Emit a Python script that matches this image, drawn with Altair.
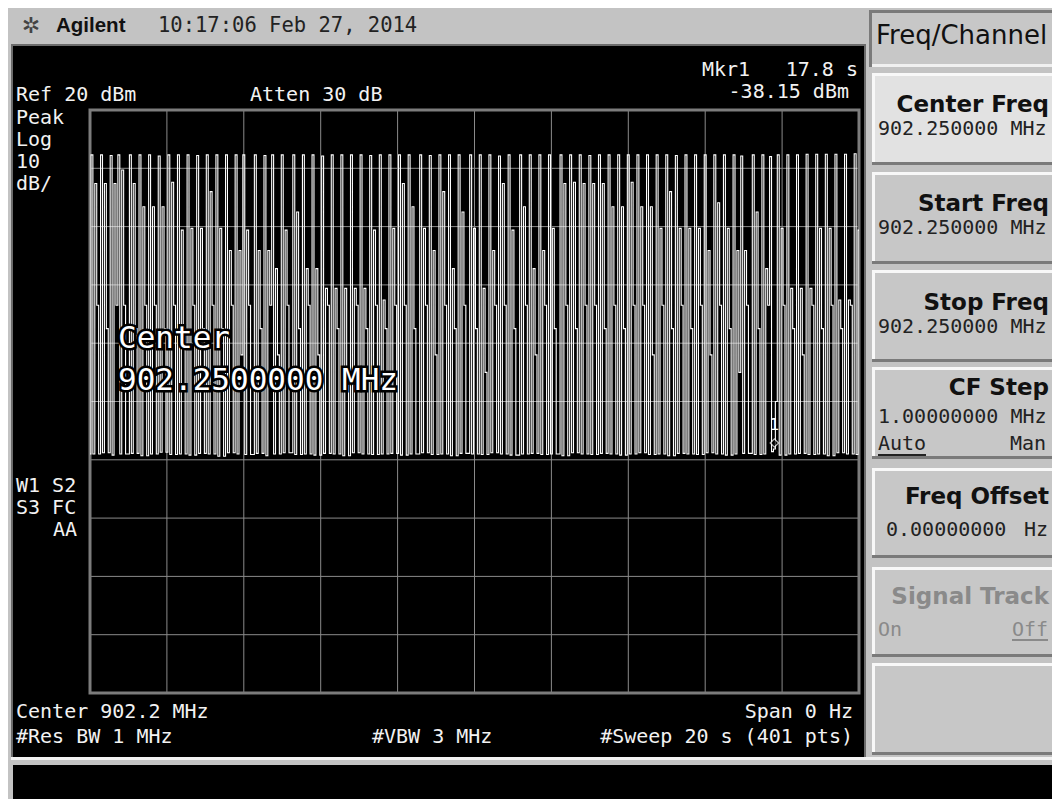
import altair as alt
import pandas as pd

SWEEP_S = 20.0          # "#Sweep 20 s"
N_POINTS = 401          # "(401 pts)"
time_ticks = [0, 2, 4, 6, 8, 10, 12, 14, 16, 18, 20]                 # 10 divisions
level_ticks = [20, 10, 0, -10, -20, -30, -40, -50, -60, -70, -80]     # Ref 20 dBm, 10 dB/div

# sweep-point index at which every hop burst starts
hop_index = [1, 6, 11, 15, 21, 26, 31, 36, 41, 46,
             51, 56, 61, 66, 71, 76, 80, 86, 91, 95,
             100, 106, 111, 116, 121, 126, 131, 136, 141, 146,
             151, 156, 161, 166, 172, 177, 182, 187, 192, 198,
             203, 208, 213, 218, 224, 229, 234, 239, 245, 250,
             255, 260, 265, 270, 275, 280, 285, 290, 295, 300,
             305, 310, 315, 320, 325, 330, 335, 339, 345, 350,
             354, 358, 363, 368, 373, 378, 383, 388, 393, 398]
# burst peak level (dBm)
hop_peak = [12.3, 12.3, 12.2, 12.3, 12.3, 12.3, 12.3, 12.1, 12.3, 12.3,
            12.3, 12.2, 12.3, 12.3, 12.3, 12.3, 12.3, 12.3, 12.2, 12.3,
            12.3, 12.3, 12.3, 12.3, 12.1, 12.3, 12.3, 12.3, 12.3, 12.2,
            12.3, 12.3, 12.3, 12.3, 12.3, 12.2, 12.3, 12.3, 12.3, 12.3,
            12.3, 12.3, 12.1, 12.3, 12.3, 12.3, 12.3, 12.3, 12.3, 12.3,
            12.3, 12.2, 12.3, 12.3, 12.3, 12.3, 12.3, 12.3, 12.3, 12.3,
            12.2, 12.3, 12.3, 12.3, 12.3, 12.3, 12.3, 12.1, 12.3, 12.3,
            12.0, 12.3, 12.3, 12.3, 12.4, 12.4, 12.4, 12.4, 12.4, 12.5]
# level of the echo line next to each burst (dBm)
hop_second = [7.4, 7.4, 7.4, 9.7, 7.4, 3.4, 3.4, 3.4, 7.6, -0.6,
              -0.3, -0.3, 6.0, -0.3, -4.1, -4.1, -0.6, -4.1, -4.1, -7.2,
              -0.6, 2.5, -7.2, -7.2, -10.6, -10.6, -10.6, -10.6, -10.6, -0.6,
              -12.6, -0.3, 7.4, 3.4, -0.3, -4.1, 6.0, -7.2, 2.5, -0.3,
              -10.6, -4.1, 7.4, -0.6, 3.4, -7.2, -4.1, -0.3, 7.4, 7.6,
              7.4, 7.4, 7.4, 3.4, 3.4, 7.6, 3.4, 3.4, -0.3, 6.0,
              -0.3, -0.3, -0.3, -4.1, 4.1, -0.3, -4.1, -4.1, 2.5, -7.2,
              -12.6, -0.3, -10.6, -10.6, -10.6, -0.3, -0.3, -12.6, -12.6, -0.6]
# level of the following (lower) point (dBm)
hop_third = [-13.5, -17.5, -13.5, -13.5, -17.5, -13.5, -13.5, -17.5, -13.5, -17.5,
             -13.5, -17.5, -13.5, -17.5, -13.5, -22.0, -13.5, -17.5, -13.5, -22.0,
             -13.5, -17.5, -13.5, -22.0, -13.5, -17.5, -25.0, -13.5, -17.5, -13.5,
             -17.5, -13.5, -13.5, -17.5, -13.5, -22.0, -13.5, -17.5, -13.5, -17.5,
             -25.0, -13.5, -13.5, -17.5, -13.5, -22.0, -13.5, -17.5, -13.5, -17.5,
             -13.5, -13.5, -17.5, -13.5, -17.5, -13.5, -13.5, -22.0, -13.5, -17.5,
             -13.5, -17.5, -13.5, -22.0, -13.5, -17.5, -25.0, -13.5, -17.5, -13.5,
             -30.0, -13.5, -17.5, -22.0, -13.5, -17.5, -13.5, -17.5, -13.5, -17.5]
# noise floor around each burst (dBm)
hop_floor = [-39.0, -38.8, -39.2, -39.0, -38.9, -39.3, -39.0, -38.7, -39.1, -39.0,
             -39.2, -38.9, -39.0, -39.4, -38.8, -39.0, -39.1, -38.9, -39.3, -39.0,
             -38.8, -39.1, -39.0, -39.2, -38.9, -39.0, -39.3, -38.8, -39.0, -39.1,
             -39.0, -38.9, -39.2, -39.0, -38.8, -39.1, -39.0, -39.3, -38.9, -39.0,
             -39.1, -38.8, -39.0, -39.2, -39.0, -38.9, -39.1, -39.0, -39.3, -38.8,
             -39.0, -39.1, -38.9, -39.0, -39.2, -39.0, -38.8, -39.1, -39.0, -39.3,
             -38.9, -39.0, -39.1, -38.8, -39.0, -39.2, -39.0, -38.9, -39.1, -39.0,
             -38.6, -39.2, -39.0, -38.9, -39.1, -39.0, -39.3, -38.8, -39.0, -39.1]
marker_time = 17.8       # "Mkr1 17.8 s"
marker_level = -38.15    # "-38.15 dBm"

# ---------------- trace table ----------------
levels = [hop_floor[0]]
for k, p in enumerate(hop_index):
    end = hop_index[k + 1] if k + 1 < len(hop_index) else N_POINTS
    burst = [hop_peak[k], hop_floor[k], hop_second[k], hop_third[k]]
    for j in range(p, end):
        off = j - p
        levels.append(burst[off] if off < len(burst) else hop_floor[k])
times = [i * SWEEP_S / (N_POINTS - 1) for i in range(N_POINTS)]
marker_i = round(marker_time / SWEEP_S * (N_POINTS - 1))
levels[marker_i] = marker_level
trace_df = pd.DataFrame({"t": times, "dbm": levels})

# ---------------- layout (page pixels; the chart sits at the 8px page margin) ----------------
OFF = 8
W, H = 1044, 791
X_RANGE = [90 - OFF, 859 - OFF]
Y_RANGE = [693 - OFF, 110 - OFF]

xs = alt.Scale(domain=[0, SWEEP_S], range=X_RANGE, nice=False, zero=False)
ys = alt.Scale(domain=[level_ticks[-1], level_ticks[0]], range=Y_RANGE, nice=False, zero=False)

one = pd.DataFrame({"k": [0]})
layers = []


def box(x0, y0, x1, y1, color):
    return alt.Chart(one).mark_rect(color=color).encode(
        x=alt.value(x0 - OFF), x2=alt.value(x1 - OFF),
        y=alt.value(y0 - OFF), y2=alt.value(y1 - OFF))


def label(txt, x, y, size, color, font="DejaVu Sans Mono", weight="normal", align="left", **kw):
    return alt.Chart(one).mark_text(
        text=txt, align=align, baseline="alphabetic", font=font, fontSize=size,
        fontWeight=weight, color=color, **kw
    ).encode(x=alt.value(x - OFF), y=alt.value(y - OFF))


# screen, status bar
layers += [
    box(11, 44, 866, 757, "#6c6c6c"),
    box(13, 46, 864, 757, "#000000"),
    box(11, 757, 1062, 760, "#f2f2f2"),
    box(13, 765, 1062, 800, "#000000"),
]

# soft key panel
layers += [
    box(869, 10, 1062, 67, "#7a7a7a"),
    box(872, 13, 1062, 67, "#f0f0f0"),
    box(872, 13, 1062, 64, "#c7c7c7"),
]
buttons = [(73, 165, "#e2e2e2"), (172, 264, "#c7c7c7"), (270, 362, "#c7c7c7"),
           (367, 459, "#c7c7c7"), (468, 558, "#c7c7c7"), (567, 657, "#c7c7c7"),
           (663, 755, "#c7c7c7")]
for y0, y1, fill in buttons:
    layers += [
        box(872, y0, 1062, y1, "#7a7a7a"),
        box(872, y0, 1062, y1 - 3, "#f8f8f8"),
        box(875, y0 + 3, 1062, y1 - 3, fill),
    ]

# grid and frame (drawn through the time / level scales)
lo, hi = level_ticks[-1], level_ticks[0]
t0, t1 = time_ticks[0], time_ticks[-1]
vgrid_df = pd.DataFrame({"t": time_ticks, "lo": [lo] * len(time_ticks), "hi": [hi] * len(time_ticks)})
hgrid_df = pd.DataFrame({"d": level_ticks, "t0": [t0] * len(level_ticks), "t1": [t1] * len(level_ticks)})
frame_df = pd.DataFrame({"t0": [t0], "t1": [t1], "lo": [lo], "hi": [hi]})

vgrid = alt.Chart(vgrid_df).mark_rule(color="#8a8a8a", strokeWidth=1).encode(
    x=alt.X("t:Q", scale=xs, axis=None),
    y=alt.Y("lo:Q", scale=ys, axis=None), y2="hi:Q")
hgrid = alt.Chart(hgrid_df).mark_rule(color="#8a8a8a", strokeWidth=1).encode(
    y=alt.Y("d:Q", scale=ys, axis=None),
    x=alt.X("t0:Q", scale=xs, axis=None), x2="t1:Q")
frame = alt.Chart(frame_df).mark_rect(filled=False, stroke="#7c7c7c", strokeWidth=3).encode(
    x=alt.X("t0:Q", scale=xs, axis=None), x2="t1:Q",
    y=alt.Y("lo:Q", scale=ys, axis=None), y2="hi:Q")
layers += [vgrid, hgrid, frame]

# trace (the analyzer draws each sweep point as a flat step)
trace = alt.Chart(trace_df).mark_line(color="#ffffff", strokeWidth=1.1, interpolate="step").encode(
    x=alt.X("t:Q", scale=xs, axis=None),
    y=alt.Y("dbm:Q", scale=ys, axis=None))
layers.append(trace)

# marker
mk = pd.DataFrame({"t": [marker_time], "dbm": [marker_level]})
layers += [
    alt.Chart(mk).mark_point(shape="diamond", filled=True, fill="#000000", stroke="#ffffff",
                             strokeWidth=1.3, size=70, yOffset=-6).encode(
        x=alt.X("t:Q", scale=xs, axis=None), y=alt.Y("dbm:Q", scale=ys, axis=None)),
    alt.Chart(mk).mark_text(text="1", color="#ffffff", font="DejaVu Sans Mono", fontSize=16,
                            dy=-24).encode(
        x=alt.X("t:Q", scale=xs, axis=None), y=alt.Y("dbm:Q", scale=ys, axis=None)),
]

# active-function overlay
for txt, y in [("Center", 348), ("902.2500000 MHz", 390)]:
    layers.append(label(txt, 118, y, 31, "#000000", stroke="#000000", strokeWidth=5))
    layers.append(label(txt, 118, y, 31, "#ffffff"))

# header texts
layers += [
    label("\u2732", 31, 33, 22, "#444444", font="DejaVu Sans", align="center"),
    label("Agilent", 56, 32, 20.5, "#111111", font="Liberation Sans", weight="bold"),
    label("10:17:06 Feb 27, 2014", 158, 32, 20.5, "#222222"),
]

# screen annotations
WHITE = "#f2f2f2"
screen_texts = [
    ("Mkr1", 702, 76, "left"), ("17.8 s", 858, 76, "right"), ("-38.15 dBm", 849, 98, "right"),
    ("Ref 20 dBm", 16, 101, "left"), ("Atten 30 dB", 250, 101, "left"),
    ("Peak", 16, 124, "left"), ("Log", 16, 146, "left"), ("10", 16, 168, "left"), ("dB/", 16, 190, "left"),
    ("W1 S2", 16, 492, "left"), ("S3 FC", 16, 514, "left"), ("AA", 53, 536, "left"),
    ("Center 902.2 MHz", 16, 718, "left"), ("Span 0 Hz", 853, 718, "right"),
    ("#Res BW 1 MHz", 16, 743, "left"), ("#VBW 3 MHz", 372, 743, "left"),
    ("#Sweep 20 s (401 pts)", 853, 743, "right"),
]
for txt, x, y, al in screen_texts:
    layers.append(label(txt, x, y, 20, WHITE, align=al))

# soft key texts (kept inside the visible page)
layers.append(label("Freq/Channel", 876, 44, 26, "#111111", font="DejaVu Sans"))
key_labels = [("Center Freq", 1049, 112, "#111111"), ("Start Freq", 1049, 211, "#111111"),
              ("Stop Freq", 1049, 310, "#111111"), ("CF Step", 1049, 395, "#111111"),
              ("Freq Offset", 1049, 504, "#111111"), ("Signal Track", 1049, 604, "#8a8a8a")]
for txt, x, y, c in key_labels:
    layers.append(label(txt, x, y, 23, c, font="DejaVu Sans", weight="bold", align="right"))
key_values = [("902.250000 MHz", 878, 135, "#222222"), ("902.250000 MHz", 878, 234, "#222222"),
              ("902.250000 MHz", 878, 333, "#222222"), ("1.00000000 MHz", 878, 423, "#222222"),
              ("Auto", 878, 450, "#222222"), ("Man", 1010, 450, "#222222"),
              ("0.00000000", 886, 536, "#222222"), ("Hz", 1024, 536, "#222222"),
              ("On", 878, 636, "#8a8a8a"), ("Off", 1012, 636, "#8a8a8a")]
for txt, x, y, c in key_values:
    layers.append(label(txt, x, y, 20, c))
layers += [box(878, 454, 926, 456, "#222222"), box(1012, 639, 1048, 641, "#8a8a8a")]

chart = alt.layer(*layers).properties(
    width=W, height=H, padding=0, autosize="none", background="#c3c3c3"
).configure_view(stroke=None)

chart.save("out.html", embed_options={"renderer": "svg", "actions": False})
